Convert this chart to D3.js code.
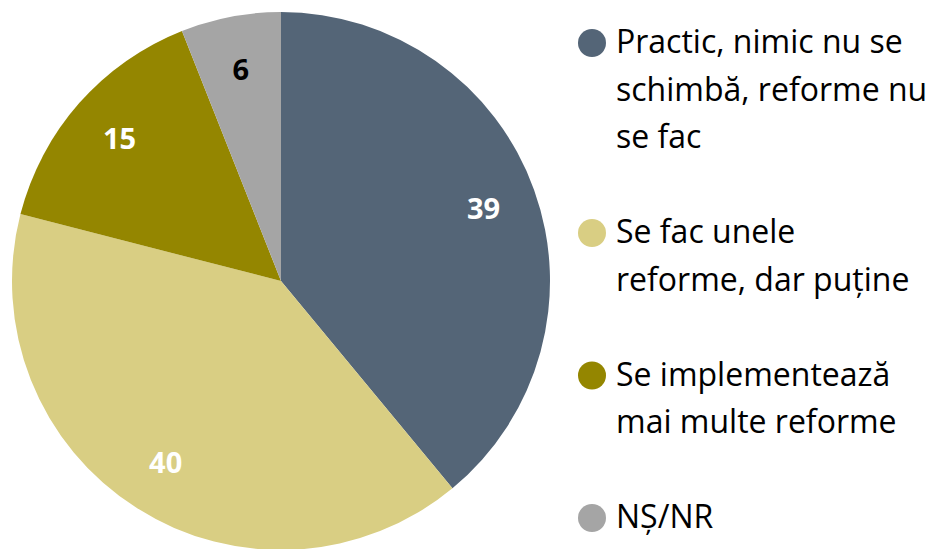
<!DOCTYPE html>
<html>
<head>
<meta charset="utf-8">
<script src="https://cdn.jsdelivr.net/npm/d3@7"></script>
<style>
  body { margin: 0; background: #fff; }
  text { font-family: "Open Sans", Lato, sans-serif; }
</style>
</head>
<body>
<div id="chart"></div>
<script>
// categories (legend text, line breaks as in the original)
const categories = [
  ["Practic, nimic nu se", "schimbă, reforme nu", "se fac"],
  ["Se fac unele", "reforme, dar puține"],
  ["Se implementează", "mai multe reforme"],
  ["NȘ/NR"]
];
const values = [39, 40, 15, 6];
const colors = ["#546577", "#D9CE83", "#948600", "#A5A5A5"];
const labelColors = ["#fff", "#fff", "#fff", "#000"];

const width = 937, height = 549;
const cx = 281, cy = 281, radius = 269;

const svg = d3.select("#chart").append("svg")
  .attr("width", width)
  .attr("height", height);

const pie = d3.pie().sort(null).value(d => d);
const arcs = pie(values);
const arc = d3.arc().innerRadius(0).outerRadius(radius);
const labelArc = d3.arc().innerRadius(radius * 0.8).outerRadius(radius * 0.8);

const g = svg.append("g").attr("transform", `translate(${cx},${cy})`);

g.selectAll("path")
  .data(arcs)
  .join("path")
  .attr("d", arc)
  .attr("fill", (d, i) => colors[i]);

g.selectAll("text.val")
  .data(arcs)
  .join("text")
  .attr("class", "val")
  .attr("x", d => labelArc.centroid(d)[0])
  .attr("y", d => labelArc.centroid(d)[1])
  .attr("dy", "0.36em")
  .attr("text-anchor", "middle")
  .attr("font-size", 29)
  .attr("font-weight", "bold")
  .attr("fill", (d, i) => labelColors[i])
  .text(d => d.data);

// legend
const lineH = 47.5;
const legend = svg.append("g").attr("transform", "translate(592,0)");
let y = 53;
categories.forEach((lines, i) => {
  const item = legend.append("g");
  item.append("circle")
    .attr("cx", 0)
    .attr("cy", y - 10)
    .attr("r", 14)
    .attr("fill", colors[i]);
  const t = item.append("text")
    .attr("x", 24)
    .attr("y", y)
    .attr("font-size", 32)
    .attr("fill", "#000");
  lines.forEach((s, j) => {
    t.append("tspan")
      .attr("x", 24)
      .attr("dy", j === 0 ? 0 : lineH)
      .text(s);
  });
  y += lineH * (lines.length + 1);
});
</script>
</body>
</html>
